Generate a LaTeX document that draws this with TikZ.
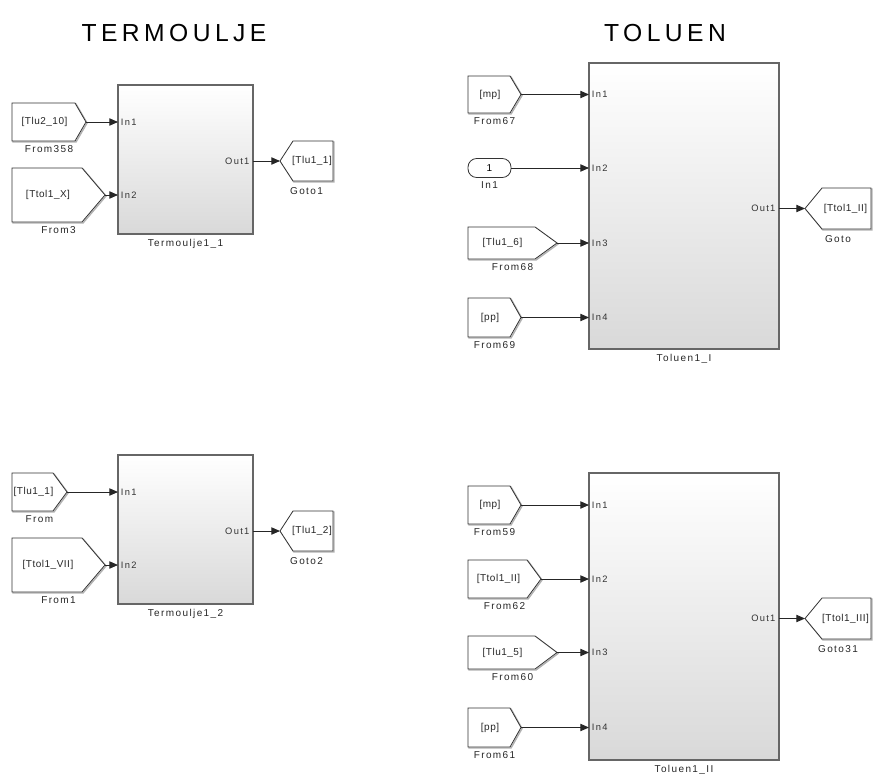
\documentclass[tikz,border=0pt]{standalone}
\usepackage{fontspec}
\setmainfont{Liberation Sans}
\newfontfamily\smallf[LetterSpace=14]{Liberation Sans}
\newfontfamily\tagf[LetterSpace=5]{Liberation Sans}
\newfontfamily\titlef[LetterSpace=18]{Liberation Sans}
\usetikzlibrary{arrows.meta,shadows}
\tikzset{
  lbl/.style={font=\smallf\fontsize{7.5pt}{9pt}\selectfont, text=black!85, inner sep=0pt},
  portlbl/.style={font=\smallf\fontsize{7pt}{8pt}\selectfont, text=black!80, inner sep=0pt},
  tagtext/.style={font=\tagf\fontsize{7.5pt}{9pt}\selectfont, text=black!85, inner sep=0pt},
  tagline/.style={draw=black!80, fill=white, line width=0.6pt, line join=miter},
  tagshadow/.style={draw=black!30, line width=1.1pt},
  blk/.style={draw=black!60, line width=1pt, top color=white, bottom color=black!15,
    inner sep=0pt, outer sep=0pt,
    drop shadow={shadow xshift=1.1pt, shadow yshift=-1.1pt, fill=black!45, opacity=1}},
  conn/.style={draw=black!85, line width=0.7pt, -{Triangle[length=6.5pt,width=5.5pt]}},
  titletext/.style={font=\titlef\fontsize{18.5pt}{20pt}\selectfont, text=black, inner sep=0pt}
}
% #1 name, #2 left x, #3 slant dx, #4 point x, #5 top y, #6 bottom y, #7 text, #8 label
\newcommand\fromtag[8]{%
  \begin{scope}[shift={(1,1)}]
    \draw[tagshadow] (#2,#5) -- ({#4-#3},#5) -- (#4,{(#5+#6)/2}) -- ({#4-#3},#6) -- (#2,#6) -- cycle;
  \end{scope}
  \draw[tagline] (#2,#5) -- ({#4-#3},#5) -- (#4,{(#5+#6)/2}) -- ({#4-#3},#6) -- (#2,#6) -- cycle;
  \node[tagtext] (#1t) at ({(#2+#4-#3)/2+1},{(#5+#6)/2}) {#7};
  \coordinate (#1) at (#4,{(#5+#6)/2});
  \node[lbl, anchor=north] (#1l) at ({(#2+#4)/2},{#6+4}) {#8};
}
% #1 name, #2 point x, #3 slant dx, #4 right x, #5 top y, #6 bottom y, #7 text, #8 label
\newcommand\gototag[8]{%
  \begin{scope}[shift={(1,1)}]
    \draw[tagshadow] (#4,#5) -- ({#2+#3},#5) -- (#2,{(#5+#6)/2}) -- ({#2+#3},#6) -- (#4,#6) -- cycle;
  \end{scope}
  \draw[tagline] (#4,#5) -- ({#2+#3},#5) -- (#2,{(#5+#6)/2}) -- ({#2+#3},#6) -- (#4,#6) -- cycle;
  \node[tagtext] (#1t) at ({(#2+#3+#4)/2-1},{(#5+#6)/2}) {#7};
  \coordinate (#1) at (#2,{(#5+#6)/2});
  \node[lbl, anchor=north] (#1l) at ({(#2+#4)/2},{#6+6}) {#8};
}
% #1 name, #2 x1, #3 y1, #4 x2, #5 y2, #6 label
\newcommand\sblock[6]{%
  \node[blk, minimum width={(#4-#2)*0.75pt}, minimum height={(#5-#3)*0.75pt}] (#1)
    at ({(#2+#4)/2},{(#3+#5)/2}) {};
  \node[lbl, anchor=north] (#1l) at ({(#2+#4)/2},{#5+5}) {#6};
}
\begin{document}
\begin{tikzpicture}[x=0.75pt,y=-0.75pt]
\useasboundingbox (0,0) rectangle (873,774);

% titles
\node[titletext] (title1) at (174,33) {TERMOULJE};
\node[titletext] (title2) at (665,33) {TOLUEN};

% ---------- Termoulje1_1 ----------
\sblock{T11}{118}{85}{253}{234}{Termoulje1\_1}
\fromtag{f358}{12}{11}{86}{103}{141}{[Tlu2\_10]}{From358}
\fromtag{f3}{12}{23}{105}{168}{222}{[Ttol1\_X]}{From3}
\gototag{g1}{280}{13}{333}{141}{181}{[Tlu1\_1]}{Goto1}
\draw[conn] (f358) -- (f358 -| T11.west);
\draw[conn] (f3) -- (f3 -| T11.west);
\draw[conn] (g1 -| T11.east) -- (g1);
\node[portlbl, anchor=west] (T11i1) at ([xshift=2pt]f358 -| T11.west) {In1};
\node[portlbl, anchor=west] (T11i2) at ([xshift=2pt]f3 -| T11.west) {In2};
\node[portlbl, anchor=east] (T11o1) at ([xshift=-2.5pt]g1 -| T11.east) {Out1};

% ---------- Termoulje1_2 ----------
\sblock{T12}{118}{455}{253}{604}{Termoulje1\_2}
\fromtag{fr}{12}{14}{67}{473}{511}{[Tlu1\_1]}{From}
\fromtag{f1}{12}{23}{105}{538}{592}{[Ttol1\_VII]}{From1}
\gototag{g2}{280}{13}{333}{511}{551}{[Tlu1\_2]}{Goto2}
\draw[conn] (fr) -- (fr -| T12.west);
\draw[conn] (f1) -- (f1 -| T12.west);
\draw[conn] (g2 -| T12.east) -- (g2);
\node[portlbl, anchor=west] (T12i1) at ([xshift=2pt]fr -| T12.west) {In1};
\node[portlbl, anchor=west] (T12i2) at ([xshift=2pt]f1 -| T12.west) {In2};
\node[portlbl, anchor=east] (T12o1) at ([xshift=-2.5pt]g2 -| T12.east) {Out1};

% ---------- Toluen1_I ----------
\sblock{TI}{589}{63}{779}{349}{Toluen1\_I}
\fromtag{f67}{468}{11}{521}{76}{113}{[mp]}{From67}
\node[draw=black!80, fill=white, line width=0.6pt, rounded corners=6.5pt,
  minimum width={43*0.75pt}, minimum height={19*0.75pt}, inner sep=0pt,
  font=\tagf\fontsize{7.5pt}{9pt}\selectfont] (in1) at (489.5,168) {1};
\node[lbl, anchor=north] (in1l) at (489.5,181) {In1};
\fromtag{f68}{468}{22}{557}{227}{259}{[Tlu1\_6]}{From68}
\fromtag{f69}{468}{11}{521}{298}{337}{[pp]}{From69}
\gototag{g}{805}{17}{871}{188}{229}{[Ttol1\_II]}{Goto}
\draw[conn] (f67) -- (f67 -| TI.west);
\draw[conn] (in1.east) -- (in1.east -| TI.west);
\draw[conn] (f68) -- (f68 -| TI.west);
\draw[conn] (f69) -- (f69 -| TI.west);
\draw[conn] (g -| TI.east) -- (g);
\node[portlbl, anchor=west] (TIi1) at ([xshift=2pt]f67 -| TI.west) {In1};
\node[portlbl, anchor=west] (TIi2) at ([xshift=2pt]in1.east -| TI.west) {In2};
\node[portlbl, anchor=west] (TIi3) at ([xshift=2pt]f68 -| TI.west) {In3};
\node[portlbl, anchor=west] (TIi4) at ([xshift=2pt]f69 -| TI.west) {In4};
\node[portlbl, anchor=east] (TIo1) at ([xshift=-2.5pt]g -| TI.east) {Out1};

% ---------- Toluen1_II ----------
\sblock{TII}{589}{473}{779}{760}{Toluen1\_II}
\fromtag{f59}{468}{11}{521}{486}{524}{[mp]}{From59}
\fromtag{f62}{468}{14}{541}{560}{598}{[Ttol1\_II]}{From62}
\fromtag{f60}{468}{22}{557}{636}{669}{[Tlu1\_5]}{From60}
\fromtag{f61}{468}{11}{521}{708}{747}{[pp]}{From61}
\gototag{g31}{805}{17}{871}{598}{639}{[Ttol1\_III]}{Goto31}
\draw[conn] (f59) -- (f59 -| TII.west);
\draw[conn] (f62) -- (f62 -| TII.west);
\draw[conn] (f60) -- (f60 -| TII.west);
\draw[conn] (f61) -- (f61 -| TII.west);
\draw[conn] (g31 -| TII.east) -- (g31);
\node[portlbl, anchor=west] (TIIi1) at ([xshift=2pt]f59 -| TII.west) {In1};
\node[portlbl, anchor=west] (TIIi2) at ([xshift=2pt]f62 -| TII.west) {In2};
\node[portlbl, anchor=west] (TIIi3) at ([xshift=2pt]f60 -| TII.west) {In3};
\node[portlbl, anchor=west] (TIIi4) at ([xshift=2pt]f61 -| TII.west) {In4};
\node[portlbl, anchor=east] (TIIo1) at ([xshift=-2.5pt]g31 -| TII.east) {Out1};
\end{tikzpicture}
\end{document}
